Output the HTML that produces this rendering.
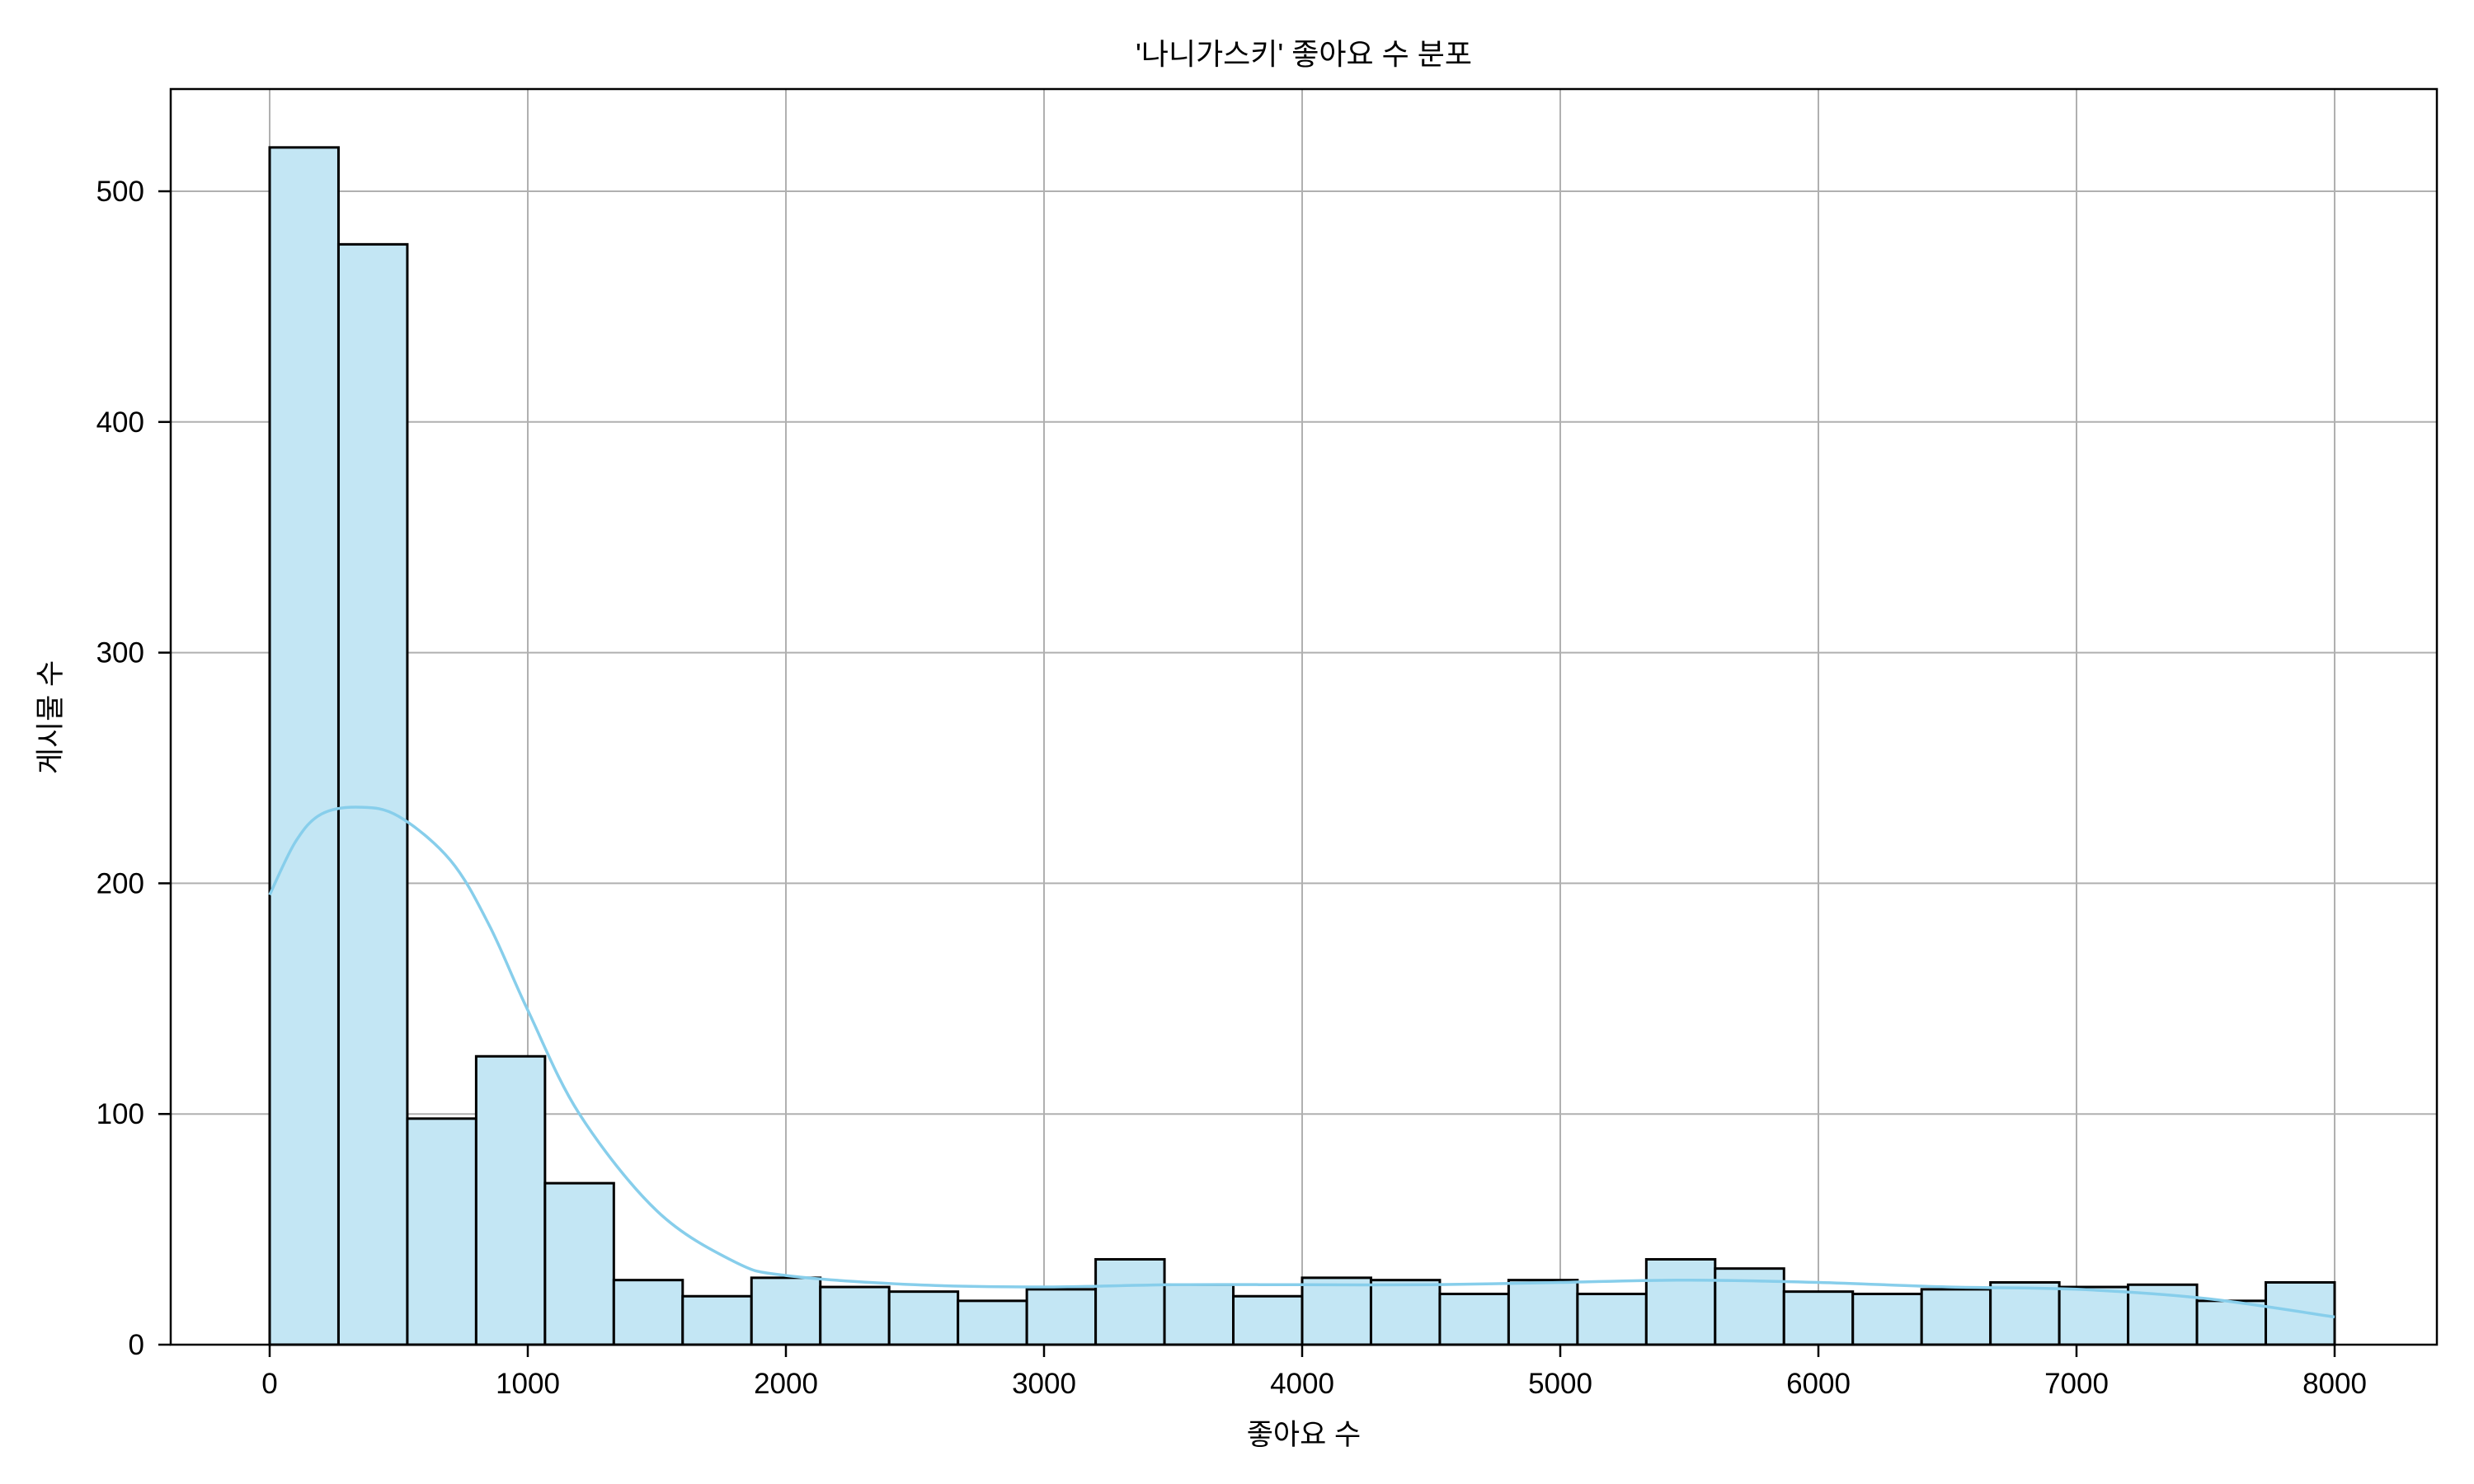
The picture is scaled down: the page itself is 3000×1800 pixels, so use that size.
<!DOCTYPE html>
<html><head><meta charset="utf-8">
<style>
html,body{margin:0;padding:0;background:#fff;}
svg{display:block;}
text{font-family:"Liberation Sans","Noto Sans CJK KR",sans-serif;fill:#000;}
</style></head>
<body>
<svg id="chart" width="3000" height="1800" viewBox="0 0 3000 1800" xmlns="http://www.w3.org/2000/svg">
<rect width="3000" height="1800" fill="#fff"/>
<g id="grid"></g>
<g id="bars"></g>
<path id="kde" fill="none" stroke="#87ceeb" stroke-width="3.5"/>
<rect x="207" y="108" width="2748" height="1523" fill="none" stroke="#000" stroke-width="2.5"/>
<g id="ticks"></g>
<text x="1581" y="78" font-size="36" text-anchor="middle">'나니가스키' 좋아요 수 분포</text>
<text x="1581" y="1752" font-size="35" text-anchor="middle">좋아요 수</text>
<text x="73" y="870" font-size="35" text-anchor="middle" transform="rotate(-90 73 870)">게시물 수</text>
</svg>
<script>
const binCounts = [519,477,98,125,70,28,21,29,25,23,19,24,37,26,21,29,28,22,28,22,37,33,23,22,24,27,25,26,19,27];
const binStart = 0;
const binEnd = 8000;
const kdeX = [0,100,200,350,500,700,850,1000,1200,1500,1800,2000,2500,3000,3500,4000,4500,5000,5500,6000,6500,7000,7500,8000];
const kdeY = [195,218,230,233,229,210,182,145,100,58,36,30,26,25,26,26,26,27,28,27,25,24,20,12];
const xTicks = [0,1000,2000,3000,4000,5000,6000,7000,8000];
const yTicks = [0,100,200,300,400,500];

const NS="http://www.w3.org/2000/svg";
const X0=327,X1=2831,Y0=1631,Y500=232;
const sx=v=>X0+(v-binStart)/(binEnd-binStart)*(X1-X0);
const sy=v=>Y0-v/500*(Y0-Y500);
function mk(tag,attrs,parent){const e=document.createElementNS(NS,tag);for(const k in attrs)e.setAttribute(k,attrs[k]);parent.appendChild(e);return e;}
const grid=document.getElementById('grid'),bars=document.getElementById('bars'),ticks=document.getElementById('ticks');
xTicks.forEach(t=>{
  const x=sx(t);
  const g=mk('line',{x1:x,x2:x,y1:108,y2:1631,stroke:'#b0b0b0','stroke-width':2},grid);
  
  
  const tk=mk('line',{x1:x,x2:x,y1:1631,y2:1646,stroke:'#000','stroke-width':2.5},ticks);
  
  
  const lb=mk('text',{x:x,y:1690,'font-size':35,'text-anchor':'middle'},ticks);
  lb.textContent=t;
  
  
});
yTicks.forEach(t=>{
  const y=sy(t);
  const g=mk('line',{x1:207,x2:2955,y1:y,y2:y,stroke:'#b0b0b0','stroke-width':2},grid);
  
  
  const tk=mk('line',{x1:192,x2:207,y1:y,y2:y,stroke:'#000','stroke-width':2.5},ticks);
  
  
  const lb=mk('text',{x:175,y:y+12,'font-size':35,'text-anchor':'end'},ticks);
  lb.textContent=t;
  
  
});
const bw=(binEnd-binStart)/binCounts.length;
binCounts.forEach((c,i)=>{
  const xa=sx(binStart+i*bw),xb=sx(binStart+(i+1)*bw);
  const r=mk('rect',{x:xa,y:sy(c),width:xb-xa,height:Y0-sy(c),fill:'#c3e6f4',stroke:'#000','stroke-width':3},bars);
  
  
});
const P=kdeX.map((v,i)=>[sx(v),sy(kdeY[i])]);
let d='M'+P[0][0].toFixed(1)+','+P[0][1].toFixed(1);
for(let i=0;i<P.length-1;i++){
  const p0=P[Math.max(0,i-1)],p1=P[i],p2=P[i+1],p3=P[Math.min(P.length-1,i+2)];
  const c1=[p1[0]+(p2[0]-p0[0])/6,p1[1]+(p2[1]-p0[1])/6];
  const c2=[p2[0]-(p3[0]-p1[0])/6,p2[1]-(p3[1]-p1[1])/6];
  d+=' C'+c1.map(n=>n.toFixed(1)).join(',')+' '+c2.map(n=>n.toFixed(1)).join(',')+' '+p2.map(n=>n.toFixed(1)).join(',');
}
document.getElementById('kde').setAttribute('d',d);
</script>
</body></html>
